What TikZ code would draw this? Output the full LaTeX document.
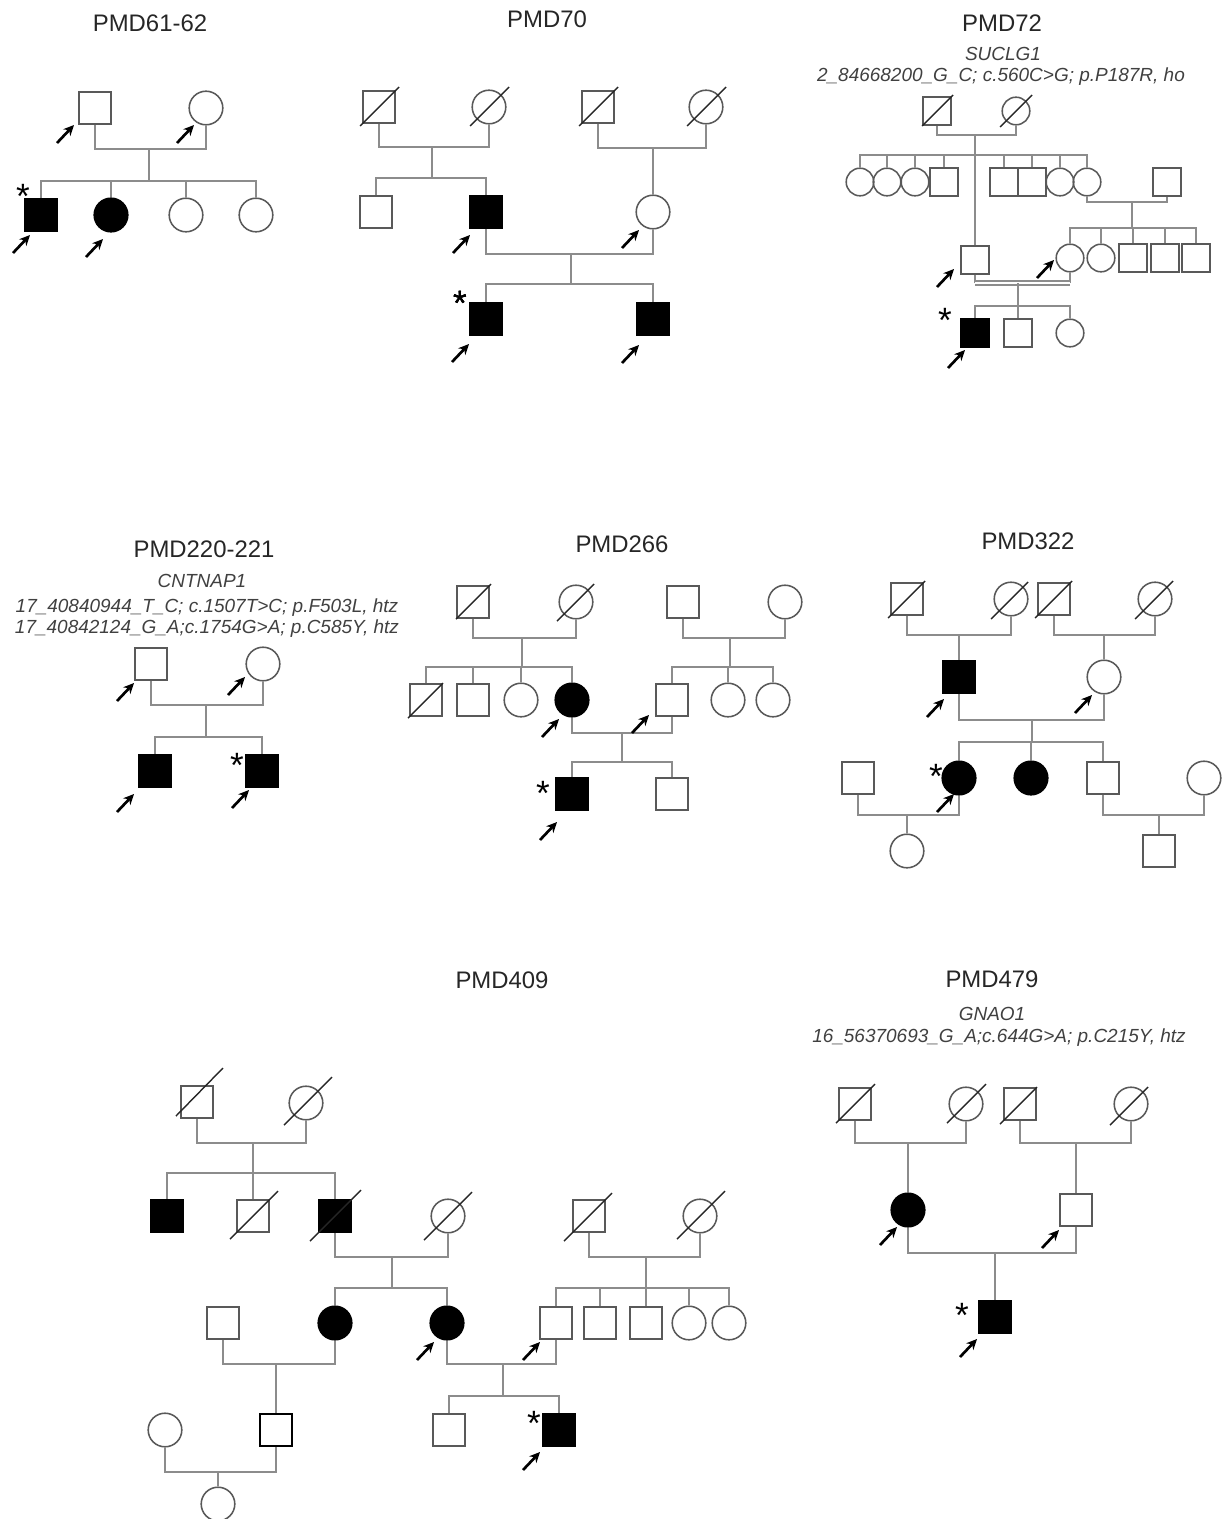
\documentclass[tikz,border=0pt]{standalone}
\usepackage{fontspec}
\setmainfont{Liberation Sans}
\usepackage{tikz}
\usetikzlibrary{shapes.geometric, arrows.meta, calc}
\tikzstyle{male} = [rectangle, draw=black!65, line width=1.1pt, minimum size=0.8cm, inner sep=0pt]
\tikzstyle{female} = [circle, draw=black!65, line width=1.1pt, minimum size=0.84cm, inner sep=0pt]
\tikzstyle{aff} = [fill=black, draw=black]
\tikzstyle{sm} = [minimum size=0.69cm]
\tikzstyle{conn} = [draw=black!45, line width=1.1pt]
\tikzstyle{slash} = [draw=black!85, line width=1pt]
\tikzstyle{arrow} = [line width=1.9pt,-{Stealth[length=7.5pt,width=7pt]}]
\tikzstyle{title} = [font=\fontsize{17}{20}\selectfont, text=black!85, inner sep=0pt, anchor=base]
\tikzstyle{gene} = [font=\fontsize{13.5}{15}\selectfont\itshape, text=black!75, inner sep=0pt, anchor=base]
\tikzstyle{aster} = [font=\fontsize{25}{25}\selectfont, inner sep=0pt, anchor=base]
\newcommand{\dead}[3]{\draw[slash] ($(#1)+(-#2,#2)$) -- ($(#1)+(#3,-#3)$);}
\newcommand{\pointer}[3]{\draw[arrow] ($(#1)+(#2,#3)$) -- ++(17,-18);}

\begin{document}
\begin{tikzpicture}[x=0.025cm, y=-0.025cm]
\useasboundingbox (0,0) rectangle (1225,1519);
%PMD61-62
\node[title] (t1) at (150,31) {PMD61-62};
\node[male] (a1) at (95,108) {};
\node[female] (a2) at (206,108) {};
\node[male,aff] (a3) at (41,215) {};
\node[female,aff] (a4) at (111,215) {};
\node[female] (a5) at (186,215) {};
\node[female] (a6) at (256,215) {};
\coordinate (au1) at (149,149);
\coordinate (as1) at (149,181);
\draw[conn] (a1.south) |- (au1) -| (a2.south);
\draw[conn] (au1) -- (as1);
\foreach \c in {a3,a4,a5,a6} \draw[conn] (as1) -| (\c.north);
\node[aster] (a3a) at (23,208) {*};
\pointer{a1}{-38}{35}
\pointer{a2}{-29}{35}
\pointer{a3}{-28}{38}
\pointer{a4}{-25}{42}

%PMD70
\node[title] (t2) at (547,27) {PMD70};
\node[male] (b1) at (379,107) {};
\node[female] (b2) at (489,107) {};
\node[male] (b3) at (598,107) {};
\node[female] (b4) at (706,107) {};
\node[male] (b5) at (376,212) {};
\node[male,aff] (b6) at (486,212) {};
\node[female] (b7) at (653,212) {};
\node[male,aff] (b8) at (486,319) {};
\node[male,aff] (b9) at (653,319) {};
\coordinate (bu1) at (432,147);
\coordinate (bs1) at (432,178);
\coordinate (bu2) at (653,148);
\coordinate (bu3) at (571,254);
\coordinate (bs3) at (571,284);
\draw[conn] (b1.south) |- (bu1) -| (b2.south);
\draw[conn] (bu1) -- (bs1);
\draw[conn] (bs1) -| (b5.north);
\draw[conn] (bs1) -| (b6.north);
\draw[conn] (b3.south) |- (bu2) -| (b4.south);
\draw[conn] (bu2) -- (b7.north);
\draw[conn] (b6.south) |- (bu3) -| (b7.south);
\draw[conn] (bu3) -- (bs3);
\draw[conn] (bs3) -| (b8.north);
\draw[conn] (bs3) -| (b9.north);
\foreach \c in {b1,b2,b3,b4} \dead{\c}{19}{20}
\node[aster] (b8a) at (460,315) {*};
\pointer{b6}{-33}{41}
\pointer{b7}{-31}{36}
\pointer{b8}{-34}{43}
\pointer{b9}{-31}{44}

%PMD72
\node[title] (t3) at (1002,31) {PMD72};
\node[gene] (t3g) at (1003,60) {SUCLG1};
\node[gene] (t3v) at (1001,81) {2\_84668200\_G\_C; c.560C>G; p.P187R, ho};
\node[male,sm] (c1) at (937,111) {};
\node[female,sm] (c2) at (1016,111) {};
\node[female,sm] (c3) at (860,182) {};
\node[female,sm] (c4) at (887,182) {};
\node[female,sm] (c5) at (915,182) {};
\node[male,sm] (c6) at (944,182) {};
\node[male,sm] (c7) at (1004,182) {};
\node[male,sm] (c8) at (1032,182) {};
\node[female,sm] (c9) at (1060,182) {};
\node[female,sm] (c10) at (1087,182) {};
\node[male,sm] (c11) at (1167,182) {};
\node[female,sm] (c13) at (1070,258) {};
\node[female,sm] (c14) at (1101,258) {};
\node[male,sm] (c15) at (1133,258) {};
\node[male,sm] (c16) at (1165,258) {};
\node[male,sm] (c17) at (1196,258) {};
\node[male,sm] (c18) at (975,260) {};
\node[male,sm,aff] (c19) at (975,333) {};
\node[male,sm] (c20) at (1018,333) {};
\node[female,sm] (c21) at (1070,333) {};
\coordinate (cu1) at (975,135);
\coordinate (cs1) at (975,155);
\coordinate (cu2) at (1132,202);
\coordinate (cs2) at (1132,228);
\coordinate (cu3) at (1018,283);
\coordinate (cs3) at (1018,306);
\draw[conn] (c1.south) |- (cu1) -| (c2.south);
\draw[conn] (cu1) -- (c18.north);
\foreach \c in {c3,c4,c5,c6,c7,c8,c9,c10} \draw[conn] (cs1) -| (\c.north);
\draw[conn] (c10.south) |- (cu2) -| (c11.south);
\draw[conn] (cu2) -- (cs2);
\foreach \c in {c13,c14,c15,c16,c17} \draw[conn] (cs2) -| (\c.north);
\draw[conn] (c18.south) -- (c18.south |- cu3);
\draw[conn] (c13.south) -- (c13.south |- cu3);
\draw[conn, double distance=1.6pt] (c18.south |- cu3) -- (c13.south |- cu3);
\draw[conn] (cu3) -- (cs3);
\foreach \c in {c19,c20,c21} \draw[conn] (cs3) -| (\c.north);
\dead{c1}{15}{16}
\dead{c2}{16}{16}
\node[aster] (c19a) at (945,332) {*};
\pointer{c18}{-38}{27}
\pointer{c13}{-33}{20}
\pointer{c19}{-27}{35}

%PMD220-221
\node[title] (t4) at (204,557) {PMD220-221};
\node[gene] (t4g) at (202,587) {CNTNAP1};
\node[gene] (t4v) at (207,612) {17\_40840944\_T\_C; c.1507T>C; p.F503L, htz};
\node[gene] (t4w) at (207,633) {17\_40842124\_G\_A;c.1754G>A; p.C585Y, htz};
\node[male] (d1) at (151,664) {};
\node[female] (d2) at (263,664) {};
\node[male,aff] (d3) at (155,771) {};
\node[male,aff] (d4) at (262,771) {};
\coordinate (du1) at (206,705);
\coordinate (ds1) at (206,737);
\draw[conn] (d1.south) |- (du1) -| (d2.south);
\draw[conn] (du1) -- (ds1);
\draw[conn] (ds1) -| (d3.north);
\draw[conn] (ds1) -| (d4.north);
\node[aster] (d4a) at (237,777) {*};
\pointer{d1}{-34}{37}
\pointer{d2}{-35}{31}
\pointer{d3}{-38}{41}
\pointer{d4}{-30}{37}

%PMD266
\node[title] (t5) at (622,552) {PMD266};
\node[male] (e1) at (473,602) {};
\node[female] (e2) at (576,602) {};
\node[male] (e3) at (683,602) {};
\node[female] (e4) at (785,602) {};
\node[male] (e5) at (426,700) {};
\node[male] (e6) at (473,700) {};
\node[female] (e7) at (521,700) {};
\node[female,aff] (e8) at (572,700) {};
\node[male] (e9) at (672,700) {};
\node[female] (e10) at (728,700) {};
\node[female] (e11) at (773,700) {};
\node[male,aff] (e12) at (572,794) {};
\node[male] (e13) at (672,794) {};
\coordinate (eu1) at (522,638);
\coordinate (es1) at (522,667);
\coordinate (eu2) at (730,638);
\coordinate (es2) at (730,667);
\coordinate (eu3) at (622,733);
\coordinate (es3) at (622,762);
\draw[conn] (e1.south) |- (eu1) -| (e2.south);
\draw[conn] (eu1) -- (es1);
\foreach \c in {e5,e6,e7,e8} \draw[conn] (es1) -| (\c.north);
\draw[conn] (e3.south) |- (eu2) -| (e4.south);
\draw[conn] (eu2) -- (es2);
\foreach \c in {e9,e10,e11} \draw[conn] (es2) -| (\c.north);
\draw[conn] (e8.south) |- (eu3) -| (e9.south);
\draw[conn] (eu3) -- (es3);
\draw[conn] (es3) -| (e12.north);
\draw[conn] (es3) -| (e13.north);
\dead{e1}{17}{18}
\dead{e2}{19}{18}
\dead{e5}{18}{17}
\node[aster] (e12a) at (543,805) {*};
\pointer{e8}{-30}{37}
\pointer{e9}{-40}{33}
\pointer{e12}{-32}{46}

%PMD322
\node[title] (t6) at (1028,549) {PMD322};
\node[male] (f1) at (907,599) {};
\node[female] (f2) at (1011,599) {};
\node[male] (f3) at (1054,599) {};
\node[female] (f4) at (1155,599) {};
\node[male,aff] (f5) at (959,677) {};
\node[female] (f6) at (1104,677) {};
\node[male] (f10) at (858,778) {};
\node[female,aff] (f7) at (959,778) {};
\node[female,aff] (f8) at (1031,778) {};
\node[male] (f9) at (1103,778) {};
\node[female] (f11) at (1204,778) {};
\node[female] (f12) at (907,851) {};
\node[male] (f13) at (1159,851) {};
\coordinate (fu1) at (959,635);
\coordinate (fu2) at (1104,635);
\coordinate (fu3) at (1032,720);
\coordinate (fs3) at (1032,742);
\coordinate (fu4) at (907,815);
\coordinate (fu5) at (1159,815);
\draw[conn] (f1.south) |- (fu1) -| (f2.south);
\draw[conn] (fu1) -- (f5.north);
\draw[conn] (f3.south) |- (fu2) -| (f4.south);
\draw[conn] (fu2) -- (f6.north);
\draw[conn] (f5.south) |- (fu3) -| (f6.south);
\draw[conn] (fu3) -- (fs3);
\foreach \c in {f7,f8,f9} \draw[conn] (fs3) -| (\c.north);
\draw[conn] (f10.south) |- (fu4) -| (f7.south);
\draw[conn] (fu4) -- (f12.north);
\draw[conn] (f9.south) |- (fu5) -| (f11.south);
\draw[conn] (fu5) -- (f13.north);
\dead{f1}{19}{18}
\dead{f2}{20}{17}
\dead{f3}{19}{18}
\dead{f4}{20}{18}
\node[aster] (f7a) at (936,788) {*};
\pointer{f5}{-32}{40}
\pointer{f6}{-29}{36}
\pointer{f7}{-22}{34}

%PMD409
\node[title] (t7) at (502,988) {PMD409};
\node[male] (g1) at (197,1102) {};
\node[female] (g2) at (306,1103) {};
\node[male,aff] (g3) at (167,1216) {};
\node[male] (g4) at (253,1216) {};
\node[male,aff] (g5) at (335,1216) {};
\node[female] (g6) at (448,1216) {};
\node[male] (g7) at (589,1216) {};
\node[female] (g8) at (700,1216) {};
\node[male] (g16) at (223,1323) {};
\node[female,aff] (g9) at (335,1323) {};
\node[female,aff] (g10) at (447,1323) {};
\node[male] (g11) at (556,1323) {};
\node[male] (g12) at (600,1323) {};
\node[male] (g13) at (646,1323) {};
\node[female] (g14) at (689,1323) {};
\node[female] (g15) at (729,1323) {};
\node[female] (g20) at (165,1430) {};
\node[male,draw=black,line width=1.8pt] (g17) at (276,1430) {};
\node[male] (g18) at (449,1430) {};
\node[male,aff] (g19) at (559,1430) {};
\node[female] (g21) at (218,1504) {};
\coordinate (gu1) at (253,1143);
\coordinate (gs1) at (253,1173);
\coordinate (gu2) at (392,1257);
\coordinate (gs2) at (392,1288);
\coordinate (gu3) at (646,1257);
\coordinate (gs3) at (646,1288);
\coordinate (gu4) at (276,1364);
\coordinate (gu5) at (503,1364);
\coordinate (gs5) at (503,1396);
\coordinate (gu6) at (218,1472);
\draw[conn] (g1.south) |- (gu1) -| (g2.south);
\draw[conn] (gu1) -- (gs1);
\foreach \c in {g3,g4,g5} \draw[conn] (gs1) -| (\c.north);
\draw[conn] (g5.south) |- (gu2) -| (g6.south);
\draw[conn] (gu2) -- (gs2);
\draw[conn] (gs2) -| (g9.north);
\draw[conn] (gs2) -| (g10.north);
\draw[conn] (g7.south) |- (gu3) -| (g8.south);
\draw[conn] (gu3) -- (gs3);
\foreach \c in {g11,g12,g13,g14,g15} \draw[conn] (gs3) -| (\c.north);
\draw[conn] (g16.south) |- (gu4) -| (g9.south);
\draw[conn] (gu4) -- (g17.north);
\draw[conn] (g10.south) |- (gu5) -| (g11.south);
\draw[conn] (gu5) -- (gs5);
\draw[conn] (gs5) -| (g18.north);
\draw[conn] (gs5) -| (g19.north);
\draw[conn] (g20.south) |- (gu6) -| (g17.south);
\draw[conn] (gu6) -- (g21.north);
\draw[slash] ($(g1)+(-21,14)$) -- ($(g1)+(26,-34)$);
\dead{g2}{22}{26}
\dead{g4}{23}{25}
\dead{g5}{25}{26}
\dead{g6}{24}{24}
\dead{g7}{25}{23}
\dead{g8}{23}{25}
\node[aster] (g19a) at (534,1435) {*};
\pointer{g10}{-30}{37}
\pointer{g11}{-33}{37}
\pointer{g19}{-36}{40}

%PMD479
\node[title] (t8) at (992,987) {PMD479};
\node[gene] (t8g) at (992,1020) {GNAO1};
\node[gene] (t8v) at (999,1042) {16\_56370693\_G\_A;c.644G>A; p.C215Y, htz};
\node[male] (h1) at (855,1104) {};
\node[female] (h2) at (966,1104) {};
\node[male] (h3) at (1020,1104) {};
\node[female] (h4) at (1131,1104) {};
\node[female,aff] (h5) at (908,1210) {};
\node[male] (h6) at (1076,1210) {};
\node[male,aff] (h7) at (995,1317) {};
\coordinate (hu1) at (908,1143);
\coordinate (hu2) at (1076,1143);
\coordinate (hu3) at (995,1253);
\draw[conn] (h1.south) |- (hu1) -| (h2.south);
\draw[conn] (hu1) -- (h5.north);
\draw[conn] (h3.south) |- (hu2) -| (h4.south);
\draw[conn] (hu2) -- (h6.north);
\draw[conn] (h5.south) |- (hu3) -| (h6.south);
\draw[conn] (hu3) -- (h7.north);
\dead{h1}{19}{20}
\dead{h2}{19}{20}
\dead{h3}{20}{17}
\dead{h4}{21}{17}
\node[aster] (h7a) at (962,1327) {*};
\pointer{h5}{-28}{35}
\pointer{h6}{-34}{38}
\pointer{h7}{-35}{40}
\end{tikzpicture}
\end{document}
